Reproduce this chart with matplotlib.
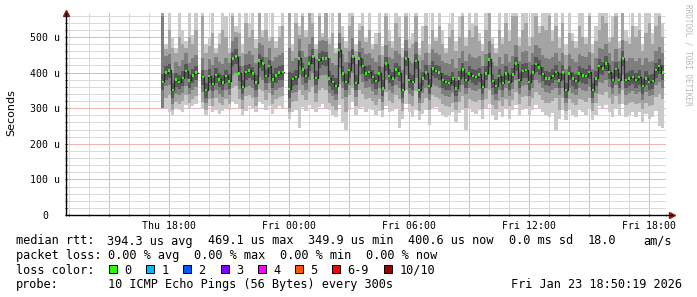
import numpy as np
import matplotlib
matplotlib.use("Agg")
import matplotlib.pyplot as plt
from matplotlib.patches import Rectangle
from matplotlib.ticker import FixedLocator, FixedFormatter

nan = np.nan

# smokeping rtt, one sample per 10 min starting Thu 17:40, values in microseconds
start_hour = 17 + 40 / 60   # hours since Thu 00:00

med = [374, 400, 406, 351, 380, 374, 385, 405, 378, 392,
       400, nan, 388, 351, 390, 368, 393, 381, 372, 390,
       375, 440, 445, 398, 360, 401, 406, 398, 372, 434,
       425, 390, 418, 380, 392, 400, 401, nan, 354, 382,
       388, 440, 409, 390, 426, 445, 385, 435, 440, 440,
       384, 374, 362, 463, 398, 374, 407, 445, 371, 440,
       418, 398, 402, 388, 376, 398, 356, 425, 390, 384,
       409, 398, 351, 440, 379, 374, 432, 351, 384, 400,
       362, 412, 404, 400, 379, 374, 371, 384, 356, 384,
       409, 379, 398, 390, 388, 395, 360, 398, 437, 376,
       362, 390, 371, 398, 374, 395, 425, 379, 404, 407,
       374, 400, 424, 415, 396, 384, 384, 390, 402, 378,
       400, 351, 398, 384, 376, 398, 392, 390, 402, 351,
       384, 418, 412, 426, 402, 379, 410, 379, 440, 379,
       384, 388, 379, 388, 362, 384, 374, 376, 407, 418,
       400]

# smoke: sorted pings, outer pair (1/10) to inner pair (4/7)
hi1 = [570, 480, 570, 500, 470, 570, 520, 490, 570, 505,
       570, nan, 570, 480, 500, 570, 470, 510, 570, 560,
       470, 570, 530, 570, 480, 570, 540, 570, 495, 570,
       520, 570, 500, 570, 490, 530, 570, nan, 570, 480,
       570, 530, 570, 520, 570, 570, 480, 570, 510, 570,
       500, 570, 470, 570, 530, 490, 570, 570, 480, 540,
       570, 500, 570, 480, 510, 570, 475, 570, 520, 490,
       570, 560, 470, 570, 495, 510, 570, 470, 530, 570,
       480, 570, 500, 570, 520, 470, 540, 570, 490, 560,
       570, 500, 570, 540, 570, 510, 480, 570, 570, 500,
       470, 570, 500, 570, 520, 570, 570, 500, 570, 570,
       500, 570, 570, 530, 570, 570, 570, 520, 570, 500,
       570, 480, 570, 510, 490, 570, 570, 500, 570, 480,
       530, 570, 570, 570, 500, 560, 570, 490, 570, 520,
       500, 570, 530, 570, 480, 570, 570, 510, 570, 570,
       540]
lo1 = [300, 300, 290, 282, 300, 296, 288, 310, 298, 305,
       312, nan, 298, 280, 306, 290, 296, 285, 292, 300,
       295, 318, 312, 300, 282, 292, 306, 298, 288, 318,
       312, 296, 305, 285, 300, 306, 298, nan, 270, 290,
       294, 244, 304, 292, 310, 300, 290, 304, 312, 300,
       296, 282, 274, 310, 258, 240, 296, 318, 280, 300,
       304, 290, 298, 296, 282, 292, 274, 306, 288, 292,
       300, 244, 270, 312, 290, 276, 296, 268, 284, 296,
       253, 300, 304, 290, 282, 276, 280, 290, 261, 286,
       296, 239, 300, 290, 284, 296, 270, 300, 312, 280,
       268, 290, 276, 300, 270, 294, 310, 282, 296, 298,
       280, 296, 310, 298, 290, 282, 276, 286, 239, 270,
       296, 266, 294, 282, 276, 296, 290, 280, 298, 267,
       280, 306, 300, 310, 290, 276, 298, 280, 312, 276,
       280, 288, 276, 290, 262, 284, 270, 276, 292, 250,
       244]
hi2 = [570, 465, 520, 470, 455, 500, 480, 470, 500, 480,
       520, nan, 560, 455, 475, 510, 455, 480, 520, 500,
       455, 560, 515, 510, 455, 540, 500, 520, 470, 570,
       500, 520, 490, 500, 470, 500, 530, nan, 570, 460,
       540, 505, 560, 500, 570, 540, 465, 560, 500, 570,
       480, 510, 455, 570, 500, 470, 530, 560, 460, 520,
       530, 485, 520, 465, 480, 510, 450, 560, 490, 470,
       540, 500, 445, 560, 470, 480, 560, 450, 490, 530,
       455, 520, 490, 530, 480, 455, 500, 520, 460, 500,
       560, 475, 520, 500, 530, 490, 460, 520, 570, 480,
       455, 520, 480, 540, 490, 560, 560, 475, 520, 540,
       475, 500, 560, 510, 530, 520, 560, 490, 530, 470,
       540, 450, 510, 490, 470, 530, 500, 480, 560, 455,
       490, 520, 560, 540, 485, 500, 560, 470, 570, 490,
       480, 530, 500, 520, 460, 510, 540, 480, 530, 560,
       500]
lo2 = [300, 330, 338, 296, 318, 312, 320, 336, 316, 326,
       334, nan, 318, 294, 326, 306, 330, 314, 308, 326,
       312, 358, 362, 326, 298, 334, 336, 330, 306, 354,
       348, 324, 342, 312, 326, 332, 334, nan, 290, 318,
       320, 350, 336, 322, 346, 360, 318, 350, 356, 352,
       316, 306, 296, 368, 326, 290, 336, 358, 306, 352,
       340, 326, 330, 320, 308, 326, 296, 346, 320, 316,
       336, 326, 292, 352, 312, 306, 348, 292, 316, 330,
       296, 336, 332, 326, 312, 306, 304, 316, 294, 318,
       334, 300, 326, 320, 318, 324, 298, 326, 352, 310,
       298, 320, 306, 326, 306, 324, 346, 312, 332, 334,
       306, 328, 346, 338, 324, 316, 314, 320, 328, 296,
       328, 292, 326, 314, 308, 326, 322, 318, 330, 292,
       314, 340, 336, 346, 328, 312, 334, 312, 352, 310,
       314, 318, 312, 316, 298, 316, 306, 308, 332, 340,
       326]
hi3 = [560, 448, 452, 400, 430, 418, 436, 455, 428, 440,
       450, nan, 440, 408, 438, 420, 445, 430, 425, 440,
       428, 490, 500, 448, 418, 452, 460, 450, 428, 482,
       478, 445, 468, 432, 445, 450, 455, nan, 470, 432,
       440, 495, 462, 445, 480, 500, 438, 488, 492, 490,
       440, 428, 420, 512, 452, 430, 460, 498, 425, 490,
       470, 452, 455, 440, 430, 450, 415, 478, 445, 438,
       460, 452, 408, 492, 432, 428, 485, 410, 436, 455,
       420, 465, 456, 450, 432, 428, 425, 438, 412, 440,
       460, 432, 452, 445, 440, 448, 418, 452, 488, 430,
       418, 445, 425, 452, 430, 448, 478, 432, 458, 460,
       430, 455, 478, 468, 450, 440, 438, 445, 455, 432,
       455, 410, 452, 438, 430, 452, 446, 445, 458, 410,
       440, 470, 465, 480, 456, 432, 465, 432, 492, 432,
       440, 442, 432, 442, 420, 440, 430, 432, 460, 472,
       455]
lo3 = [300, 362, 366, 312, 340, 336, 344, 362, 340, 352,
       360, nan, 346, 314, 350, 330, 352, 340, 332, 350,
       336, 392, 398, 354, 322, 360, 362, 356, 332, 388,
       380, 350, 372, 338, 352, 358, 360, nan, 300, 344,
       346, 392, 366, 350, 380, 398, 344, 390, 394, 394,
       344, 334, 322, 412, 356, 332, 364, 398, 332, 392,
       374, 356, 360, 348, 336, 356, 318, 380, 350, 344,
       366, 356, 314, 392, 340, 334, 386, 314, 344, 358,
       322, 368, 362, 356, 340, 334, 332, 344, 318, 346,
       366, 340, 356, 350, 348, 354, 322, 356, 392, 338,
       322, 350, 332, 356, 334, 354, 380, 340, 362, 364,
       334, 358, 380, 372, 356, 346, 344, 350, 358, 338,
       358, 314, 356, 344, 336, 356, 352, 348, 360, 314,
       344, 374, 370, 380, 360, 340, 366, 340, 392, 338,
       344, 348, 340, 346, 322, 346, 334, 336, 364, 374,
       358]
hi4 = [395, 418, 425, 372, 398, 392, 404, 424, 396, 410,
       418, nan, 406, 372, 410, 386, 412, 400, 392, 408,
       395, 458, 466, 418, 380, 420, 425, 416, 392, 452,
       445, 410, 436, 400, 412, 418, 420, nan, 402, 400,
       408, 462, 428, 410, 446, 466, 404, 455, 460, 458,
       404, 392, 384, 482, 418, 396, 426, 466, 392, 458,
       438, 418, 420, 408, 396, 418, 378, 445, 410, 402,
       428, 418, 372, 460, 398, 394, 452, 372, 402, 420,
       382, 432, 422, 418, 398, 394, 390, 402, 376, 404,
       428, 398, 418, 410, 406, 414, 380, 418, 456, 396,
       382, 410, 390, 418, 394, 414, 445, 398, 424, 426,
       394, 420, 444, 434, 416, 404, 402, 410, 420, 398,
       420, 372, 418, 402, 396, 418, 412, 410, 422, 372,
       404, 438, 430, 446, 422, 398, 430, 398, 460, 398,
       404, 408, 398, 408, 382, 404, 394, 396, 426, 438,
       420]
lo4 = [352, 380, 386, 330, 360, 354, 362, 384, 358, 372,
       380, nan, 366, 330, 370, 348, 372, 360, 350, 370,
       354, 418, 424, 376, 340, 380, 384, 378, 350, 412,
       404, 370, 396, 358, 372, 380, 380, nan, 330, 362,
       366, 418, 388, 370, 404, 424, 364, 414, 420, 418,
       362, 352, 340, 440, 376, 352, 386, 424, 350, 418,
       396, 376, 382, 368, 354, 376, 334, 404, 370, 362,
       388, 376, 330, 418, 358, 352, 410, 330, 362, 380,
       340, 390, 384, 378, 358, 352, 350, 362, 334, 364,
       388, 358, 378, 370, 366, 374, 340, 378, 416, 356,
       340, 370, 350, 378, 352, 374, 404, 358, 384, 386,
       352, 380, 402, 394, 376, 364, 362, 370, 380, 356,
       380, 330, 378, 362, 354, 376, 372, 368, 382, 330,
       362, 396, 392, 404, 382, 358, 388, 358, 418, 356,
       362, 368, 358, 366, 340, 364, 352, 354, 386, 396,
       380]

ytick_vals = [0, 100, 200, 300, 400, 500]
ytick_labels = ["0", "100 u", "200 u", "300 u", "400 u", "500 u"]
xgrid_hours = [15, 18, 21, 24, 27, 30, 33, 36, 39, 42]
xtick_labels = ["", "Thu 18:00", "", "Fri 00:00", "", "Fri 06:00", "", "Fri 12:00", "", "Fri 18:00"]

loss_labels = ["0", "1", "2", "3", "4", "5", "6-9", "10/10"]
loss_colors = ["#26ff00", "#00b8ff", "#0059ff", "#7e00ff", "#ff00ff", "#ff5500", "#ff0000", "#a10000"]

W, H = 697, 297
fig = plt.figure(figsize=(W / 100, H / 100), dpi=100)
ax = fig.add_axes([66 / W, 82 / H, 600 / W, 202 / H])

ax.set_xlim(12 + 50 / 60, 42 + 50 / 60)
ax.set_ylim(0, 567.4)

# grid drawn by hand: pale grey every hour / 20u, pink every 3 h / 100u
hours = np.arange(13, 43)
ygrid = np.arange(20, 561, 20)
grid_minor = "#dadada"
grid_major = "#eab4b4"
for h in hours:
    ax.axvline(h, color=grid_major if h % 3 == 0 else grid_minor, lw=0.72, zorder=0.5)
for v in ygrid:
    ax.axhline(v, color=grid_major if v % 100 == 0 else grid_minor, lw=0.72, zorder=0.5)

t = start_hour + np.arange(len(med)) / 6
shades = ["#cacaca", "#a4a4a4", "#7e7e7e", "#585858"]
for (lo, hi), c in zip([(lo1, hi1), (lo2, hi2), (lo3, hi3), (lo4, hi4)], shades):
    lo = np.array(lo, float)
    hi = np.array(hi, float)
    ax.bar(t, hi - lo, bottom=lo, width=1 / 6, color=c, linewidth=0,
           antialiased=False, zorder=2)

med = np.array(med, float)
ax.step(t, med, where="mid", color="#2a2a2a", lw=0.9, zorder=3)
ax.bar(t, 7, bottom=med - 3.5, width=0.11, color=loss_colors[0], linewidth=0,
       antialiased=False, zorder=4)

ax.xaxis.set_major_locator(FixedLocator(xgrid_hours))
ax.xaxis.set_major_formatter(FixedFormatter(xtick_labels))
ax.xaxis.set_minor_locator(FixedLocator(hours[hours % 3 != 0]))
ax.yaxis.set_major_locator(FixedLocator(ytick_vals))
ax.yaxis.set_major_formatter(FixedFormatter(ytick_labels))
ax.yaxis.set_minor_locator(FixedLocator(ygrid[ygrid % 100 != 0]))
ax.grid(False)

for s in ["top", "right"]:
    ax.spines[s].set_visible(False)
for s in ["left", "bottom"]:
    ax.spines[s].set_linewidth(1.0)
    ax.spines[s].set_zorder(5)

ax.tick_params(axis="both", which="major", length=2, width=0.8, direction="inout",
               labelsize=7.1, colors="black")
ax.tick_params(axis="both", which="minor", length=1.5, width=0.6, direction="inout")
ax.tick_params(axis="x", which="major", pad=3)
ax.tick_params(axis="y", which="major", pad=14)
for lab in ax.get_yticklabels():
    lab.set_horizontalalignment("center")
    lab.set_fontfamily("DejaVu Sans Mono")
for lab in ax.get_xticklabels():
    lab.set_fontfamily("DejaVu Sans Mono")

# axis arrows
arrow_c = "#8b1a1a"
ax.plot([0], [1.0], marker="^", ms=4, color=arrow_c, transform=ax.transAxes, clip_on=False)
ax.plot([1.01], [0], marker=">", ms=4, color=arrow_c, transform=ax.transAxes, clip_on=False)
ax.plot([1.0, 1.01], [0, 0], color="black", lw=1.0, transform=ax.transAxes, clip_on=False)

mono = "DejaVu Sans Mono"
fig.text(11 / W, 1 - 113 / H, "Seconds", rotation=90, ha="center", va="center",
         fontsize=8, family="DejaVu Sans")
fig.text(688 / W, 1 - 4 / H, "RRDTOOL / TOBI OETIKER", rotation=270, ha="center",
         va="top", fontsize=5.5, color="#b8b8b8", family=mono)

fs = 8.6
def line(x, y, s, ha="left"):
    fig.text(x / W, 1 - y / H, s, ha=ha, va="baseline", fontsize=fs, family=mono)

y1, y2, y3, y4 = 244.5, 259, 273.5, 288
line(16, y1, "median rtt:")
line(107, y1, "394.3 us avg")
line(207.5, y1, "469.1 us max")
line(308, y1, "349.9 us min")
line(408.5, y1, "400.6 us now")
line(509, y1, "0.0 ms sd")
line(588, y1, "18.0")
line(643, y1, "am/s")

line(16, y2, "packet loss:")
line(108, y2, "0.00 % avg")
line(194, y2, "0.00 % max")
line(280, y2, "0.00 % min")
line(366, y2, "0.00 % now")

line(16, y3, "loss color:")
box_x = [108.5, 146, 183, 220.5, 257.6, 294.6, 331.7, 384]
for bx, lab, c in zip(box_x, loss_labels, loss_colors):
    fig.add_artist(Rectangle((bx / W, 1 - 272.5 / H), 8 / W, 8 / H,
                             transform=fig.transFigure, facecolor=c,
                             edgecolor="black", lw=0.7))
    line(bx + 15.5, y3, lab)

line(16, y4, "probe:")
line(108, y4, "10 ICMP Echo Pings (56 Bytes) every 300s")
line(682, y4, "Fri Jan 23 18:50:19 2026", ha="right")

fig.savefig("out.png", dpi=100, facecolor="white")
